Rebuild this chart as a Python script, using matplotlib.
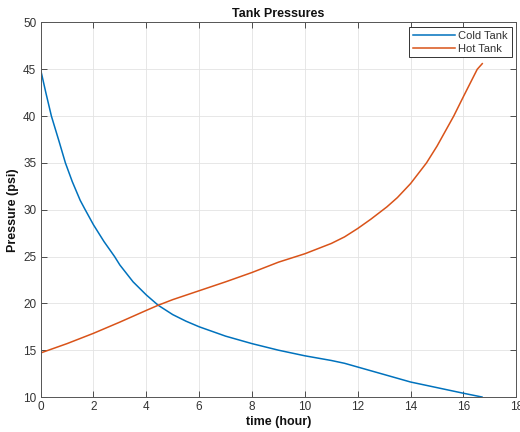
import matplotlib.pyplot as plt

# tank pressure readings (psi) vs elapsed time (hours)
cold_t = [0, 0.2, 0.41, 0.7, 0.94, 1.2, 1.5, 1.67, 2, 2.4, 2.8, 3, 3.5, 4,
          4.45, 5, 5.5, 6, 7, 8, 9, 10, 11, 11.5, 12, 13, 14, 15, 16, 16.7]
cold_p = [45, 42.5, 40, 37.3, 35, 33.0, 31, 30.1, 28.4, 26.6, 25, 24.1, 22.3,
          20.9, 19.8, 18.8, 18.1, 17.5, 16.5, 15.7, 15.0, 14.4, 13.9, 13.6,
          13.2, 12.4, 11.6, 11.0, 10.4, 10.0]

hot_t = [0, 1, 2, 3, 4, 4.45, 5, 6, 7, 8, 9, 10, 11, 11.5, 12, 12.5, 13.1,
         13.5, 14, 14.6, 15, 15.63, 16, 16.52, 16.71]
hot_p = [14.7, 15.7, 16.8, 18.0, 19.25, 19.8, 20.4, 21.35, 22.3, 23.3, 24.4,
         25.3, 26.4, 27.1, 28.0, 29.0, 30.3, 31.3, 32.8, 35.0, 36.8, 40.0,
         42.1, 45.0, 45.6]

x_ticks = list(range(0, 19, 2))
y_ticks = list(range(10, 51, 5))

plt.rcParams['font.family'] = ['Liberation Sans', 'DejaVu Sans']
txt = '#333333'

fig = plt.figure(figsize=(5.2, 4.32), dpi=100)
ax = fig.add_axes([0.078, 0.081, 0.915, 0.867])

ax.plot(cold_t, cold_p, color='#0072BD', lw=1.1, label='Cold Tank')
ax.plot(hot_t, hot_p, color='#D95319', lw=1.1, label='Hot Tank')

ax.set_xlim(0, 18)
ax.set_ylim(10, 50)
ax.set_xticks(x_ticks)
ax.set_yticks(y_ticks)
ax.tick_params(direction='in', top=True, right=True, length=4, width=0.6,
               labelsize=8.5, colors=txt, pad=3)
ax.grid(True, color='#e3e3e3', lw=0.6)
ax.set_axisbelow(True)
for s in ax.spines.values():
    s.set_color('#555555')
    s.set_linewidth(0.7)

ax.set_title('Tank Pressures', fontsize=9, fontweight='bold', color='#111111', pad=4)
ax.set_xlabel('time (hour)', fontsize=9, fontweight='bold', color='#111111', labelpad=2)
ax.set_ylabel('Pressure (psi)', fontsize=9, fontweight='bold', color='#111111', labelpad=3)

leg = ax.legend(loc='upper right', fontsize=8, fancybox=False, framealpha=1,
                edgecolor='#333333', borderaxespad=0.4, handlelength=3.8,
                handletextpad=0.3, borderpad=0.35, labelspacing=0.25)
leg.get_frame().set_linewidth(0.7)
for t in leg.get_texts():
    t.set_color(txt)

fig.savefig('out.png', dpi=100)
